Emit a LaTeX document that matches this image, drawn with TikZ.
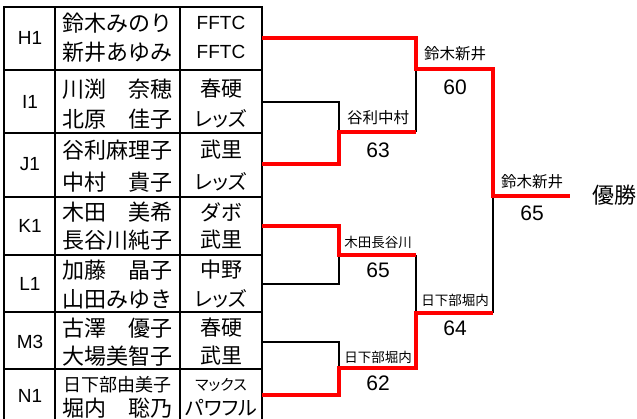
\documentclass[tikz,border=0pt]{standalone}
\usepackage{fontspec}
\setmainfont{Liberation Sans}
\newfontfamily\jp{Noto Sans CJK JP}
\newfontfamily\jpp[RawFeature=+palt]{Noto Sans CJK JP}
\usepackage{tikz}
\usetikzlibrary{arrows,shapes}

\begin{document}
\begin{tikzpicture}[x=1pt,y=-1pt,inner sep=0pt]
                \tikzstyle{tableline}=[line width=1.7pt]
                \tikzstyle{loseline}=[line width=1.6pt]
                \tikzstyle{winline}=[line width=4.5pt,red]
                \tikzstyle{codetext}=[font=\fontsize{19}{19}\selectfont]
                \tikzstyle{nametext}=[font=\jp\fontsize{22}{22}\selectfont]
                \tikzstyle{clubtext}=[font=\jp\fontsize{21}{21}\selectfont]
                \tikzstyle{kanatext}=[font=\jpp\fontsize{20}{20}\selectfont]
                \tikzstyle{pairtext}=[font=\jp\fontsize{15.5}{15.5}\selectfont]
                \tikzstyle{scoretext}=[font=\fontsize{21}{21}\selectfont]

                \useasboundingbox (0,0) rectangle (637,419);

                \draw[tableline] (4,430) -- (4,7) -- (262,7) -- (262,430);
                \draw[tableline] (55,7) -- (55,430);
                \draw[tableline] (180,7) -- (180,430);
                \foreach \y in {70,133,197,255,312,369}
                    \draw[tableline] (4,\y) -- (262,\y);

                \node[codetext] (h1) at (30,38) {H1};
                \node[codetext] (i1) at (30,102) {I1};
                \node[codetext] (j1) at (30,164) {J1};
                \node[codetext] (k1) at (30,226) {K1};
                \node[codetext] (l1) at (30,284) {L1};
                \node[codetext] (m3) at (30,342) {M3};
                \node[codetext] (n1) at (30,396) {N1};

                \node[nametext] (h1a) at (117,23) {鈴木みのり};
                \node[nametext] (h1b) at (117,52) {新井あゆみ};
                \node[nametext] (i1a) at (117,89) {川渕　奈穂};
                \node[nametext] (i1b) at (117,119) {北原　佳子};
                \node[nametext] (j1a) at (117,150) {谷利麻理子};
                \node[nametext] (j1b) at (117,182) {中村　貴子};
                \node[nametext] (k1a) at (117,212) {木田　美希};
                \node[nametext] (k1b) at (117,240) {長谷川純子};
                \node[nametext] (l1a) at (117,270) {加藤　晶子};
                \node[nametext] (l1b) at (117,299) {山田みゆき};
                \node[nametext] (m3a) at (117,328) {古澤　優子};
                \node[nametext] (m3b) at (117,356) {大場美智子};
                \node[nametext,font=\jp\fontsize{18}{18}\selectfont] (n1a) at (117,385) {日下部由美子};
                \node[nametext] (n1b) at (117,408) {堀内　聡乃};

                \node[codetext] (h1c) at (221,23) {FFTC};
                \node[codetext] (h1d) at (221,52) {FFTC};
                \node[clubtext] (i1c) at (221,89) {春硬};
                \node[kanatext] (i1d) at (221,119) {レッズ};
                \node[clubtext] (j1c) at (221,150) {武里};
                \node[kanatext] (j1d) at (221,182) {レッズ};
                \node[clubtext] (k1c) at (221,212) {ダボ};
                \node[clubtext] (k1d) at (221,240) {武里};
                \node[clubtext] (l1c) at (221,270) {中野};
                \node[kanatext] (l1d) at (221,299) {レッズ};
                \node[clubtext] (m3c) at (221,328) {春硬};
                \node[clubtext] (m3d) at (221,356) {武里};
                \node[kanatext,font=\jpp\fontsize{15}{15}\selectfont] (n1c) at (221,385) {マックス};
                \node[kanatext] (n1d) at (221,408) {パワフル};

                \coordinate (H) at (262,38);
                \coordinate (I) at (262,102);
                \coordinate (J) at (262,164);
                \coordinate (K) at (262,226);
                \coordinate (L) at (262,284);
                \coordinate (M) at (262,342);
                \coordinate (N) at (262,395);
                \coordinate (IJ) at (339,132);
                \coordinate (KL) at (339,255);
                \coordinate (MN) at (339,368);
                \coordinate (HIJ) at (416,69);
                \coordinate (KLMN) at (416,313);
                \coordinate (F) at (493,196);
                \coordinate (W) at (570,196);

                \draw[loseline] (I) -| (IJ);
                \draw[loseline] (HIJ |- IJ) -- (HIJ);
                \draw[loseline] (L) -| (KL);
                \draw[loseline] (M) -| (MN);
                \draw[loseline] (KLMN |- KL) -- (KLMN);
                \draw[loseline] (KLMN -| F) -- (F);

                \draw[winline] (H) -| (HIJ) -| (F) -- (W);
                \draw[winline] (J) -| (IJ) -- (HIJ |- IJ);
                \draw[winline] (K) -| (KL) -- (KLMN |- KL);
                \draw[winline] (N) -| (MN) -| (KLMN) -- (KLMN -| F);

                \node[pairtext] (pIJ) at (378,118) {谷利中村};
                \node[scoretext] (sIJ) at (378,150) {63};
                \node[pairtext] (pHIJ) at (455,54) {鈴木新井};
                \node[scoretext] (sHIJ) at (455,87) {60};
                \node[pairtext] (pF) at (532,182) {鈴木新井};
                \node[scoretext] (sF) at (532,213) {65};
                \node[pairtext,font=\jp\fontsize{13.5}{13.5}\selectfont] (pKL) at (378,242) {木田長谷川};
                \node[scoretext] (sKL) at (378,270) {65};
                \node[pairtext,font=\jp\fontsize{13.5}{13.5}\selectfont] (pKLMN) at (455,300) {日下部堀内};
                \node[scoretext] (sKLMN) at (455,328) {64};
                \node[pairtext,font=\jp\fontsize{13.5}{13.5}\selectfont] (pMN) at (378,357) {日下部堀内};
                \node[scoretext] (sMN) at (378,383) {62};

                \node[nametext] (champ) at (614,195) {優勝};
\end{tikzpicture}
\end{document}
